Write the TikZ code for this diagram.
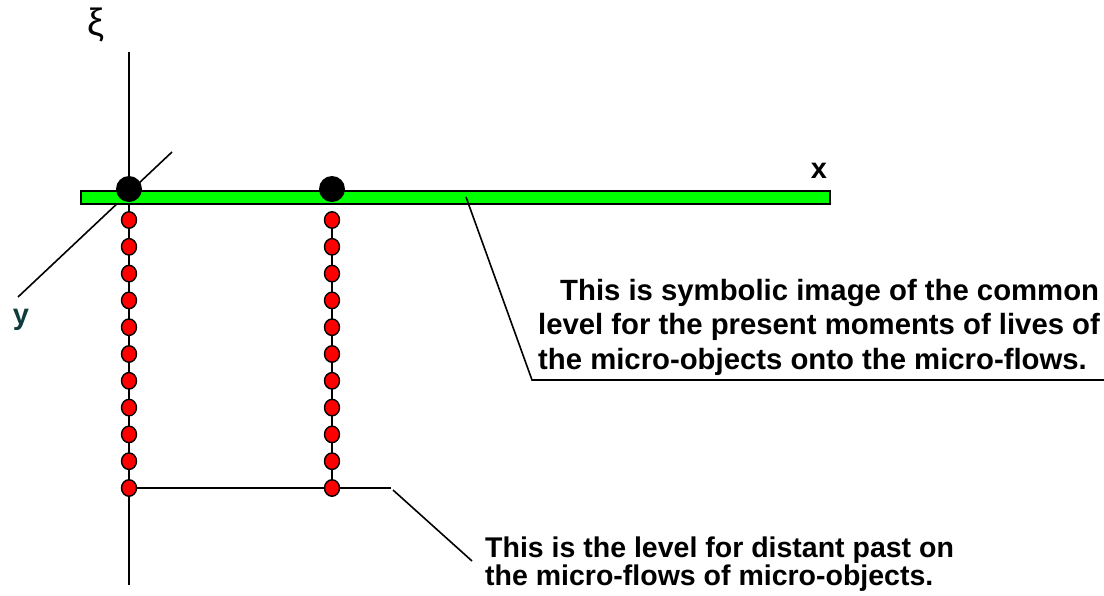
\documentclass[tikz,border=0pt]{standalone}
\usepackage{fontspec}
\setmainfont{Liberation Sans}
\usetikzlibrary{shapes.geometric}
\definecolor{barGreen}{RGB}{0,255,0}
\definecolor{yTeal}{RGB}{16,60,60}
\begin{document}
\begin{tikzpicture}[x=1pt,y=-1pt,
  axisline/.style={line width=1.8pt},
  thinline/.style={line width=1.6pt},
  reddot/.style={ellipse, draw, line width=1.4pt, fill=red, minimum width=15pt, minimum height=16.5pt, inner sep=0pt},
  blackdot/.style={circle, fill=black, minimum size=26pt, inner sep=0pt},
  bigtext/.style={font=\bfseries\fontsize{29.3}{34.5}\selectfont, align=left, inner sep=0pt, anchor=base west},
  lowtext/.style={font=\bfseries\fontsize{28.5}{28}\selectfont, align=left, inner sep=0pt, anchor=base west},
  axislabel/.style={font=\bfseries\fontsize{29}{34}\selectfont, inner sep=0pt}
]
\useasboundingbox (0,0) rectangle (1104,595);
% axes
\coordinate (xiTop) at (129,52);
\coordinate (xiBot) at (129,585);
\coordinate (yA) at (172,152);
\coordinate (yB) at (18,297);
\draw[thinline] (yA) -- (yB);
\draw[axisline] (xiTop) -- (xiBot);
% second column line
\coordinate (cTop) at (332,220);
\coordinate (cBot) at (332,488);
\draw[thinline] (cTop) -- (cBot);
% past level line
\coordinate (pastEnd) at (391,488);
\draw[thinline] (129,488) -- (pastEnd);
% green bar
\node[draw, line width=1.8pt, fill=barGreen, minimum width=749pt, minimum height=13pt, inner sep=0pt, anchor=north west] (bar) at (80,190) {};
% black dots
\node[blackdot] (o1) at (129,189) {};
\node[blackdot] (o2) at (332,189) {};
% red dots
\foreach \i in {0,...,10} {
  \node[reddot] (a\i) at (129,220+26.8*\i) {};
  \node[reddot] (b\i) at (332,220+26.8*\i) {};
}
% labels
\node[font=\fontsize{38}{40}\selectfont, inner sep=0pt] (xi) at (96,25) {ξ};
\node[axislabel] (xl) at (819,171) {x};
\node[axislabel, text=yTeal] (yl) at (21,320) {y};
% callout 1
\coordinate (c1a) at (466,197);
\coordinate (c1b) at (532,380);
\coordinate (c1c) at (1104,380);
\draw[thinline] (c1a) -- (c1b) -- (c1c);
\node[bigtext] (t1) at (538,369) {\hspace*{22pt}This is symbolic image of the common\\level for the present moments of lives of\\the micro-objects onto the micro-flows.};
% callout 2
\coordinate (c2a) at (393,490);
\coordinate (c2b) at (472,561);
\draw[thinline] (c2a) -- (c2b);
\node[lowtext] (t2) at (485,585) {This is the level for distant past on\\the micro-flows of micro-objects.};
\end{tikzpicture}
\end{document}
